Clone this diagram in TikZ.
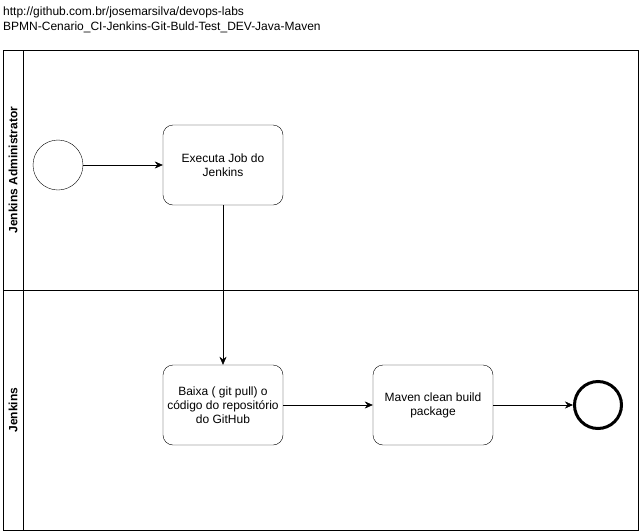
\documentclass[tikz,border=0pt]{standalone}
\usepackage{fontspec}
\setmainfont{Liberation Sans}
\usetikzlibrary{arrows.meta}
\begin{document}
\begin{tikzpicture}[x=1pt, y=-1pt, font=\fontsize{12}{14}\selectfont,
	task/.style={draw, rounded corners=10pt, minimum width=120pt, minimum height=80pt, align=center},
	flow/.style={-{Stealth[length=8pt,width=7pt]}}]
	\useasboundingbox (0,0) rectangle (641,531);
	
	%Titel
	\node[anchor=west, inner sep=0pt] (url) at (3,12) {http://github.com.br/josemarsilva/devops-labs};
	\node[anchor=west, inner sep=0pt] (titel) at (3,27) {BPMN-Cenario\_CI-Jenkins-Git-Buld-Test\_DEV-Java-Maven};
	
	%Pool und Lanes
	\draw (3,50) rectangle (638,530);
	\draw (23,50) -- (23,530);
	\draw (3,290) -- (638,290);
	\node[rotate=90, font=\fontsize{12}{14}\selectfont\bfseries] (admin) at (13,170) {Jenkins Administrator};
	\node[rotate=90, font=\fontsize{12}{14}\selectfont\bfseries] (jenkins) at (13,410) {Jenkins};
	
	%Ereignisse
	\node[draw, circle, minimum size=50pt, inner sep=0pt] (start) at (58,165) {};
	\node[draw, circle, line width=3pt, minimum size=47pt, inner sep=0pt] (ende) at (598,405) {};
	
	%Aufgaben
	\node[task] (job) at (223,165) {Executa Job do\\Jenkins};
	\node[task] (pull) at (223,405) {Baixa ( git pull) o\\c\'odigo do reposit\'orio\\do GitHub};
	\node[task] (maven) at (433,405) {Maven clean build\\package};
	
	%Sequenzfluss
	\draw[flow] (start) -- (job);
	\draw[flow] (job) -- (pull);
	\draw[flow] (pull) -- (maven);
	\draw[flow] (maven) -- (ende);
\end{tikzpicture}
\end{document}
